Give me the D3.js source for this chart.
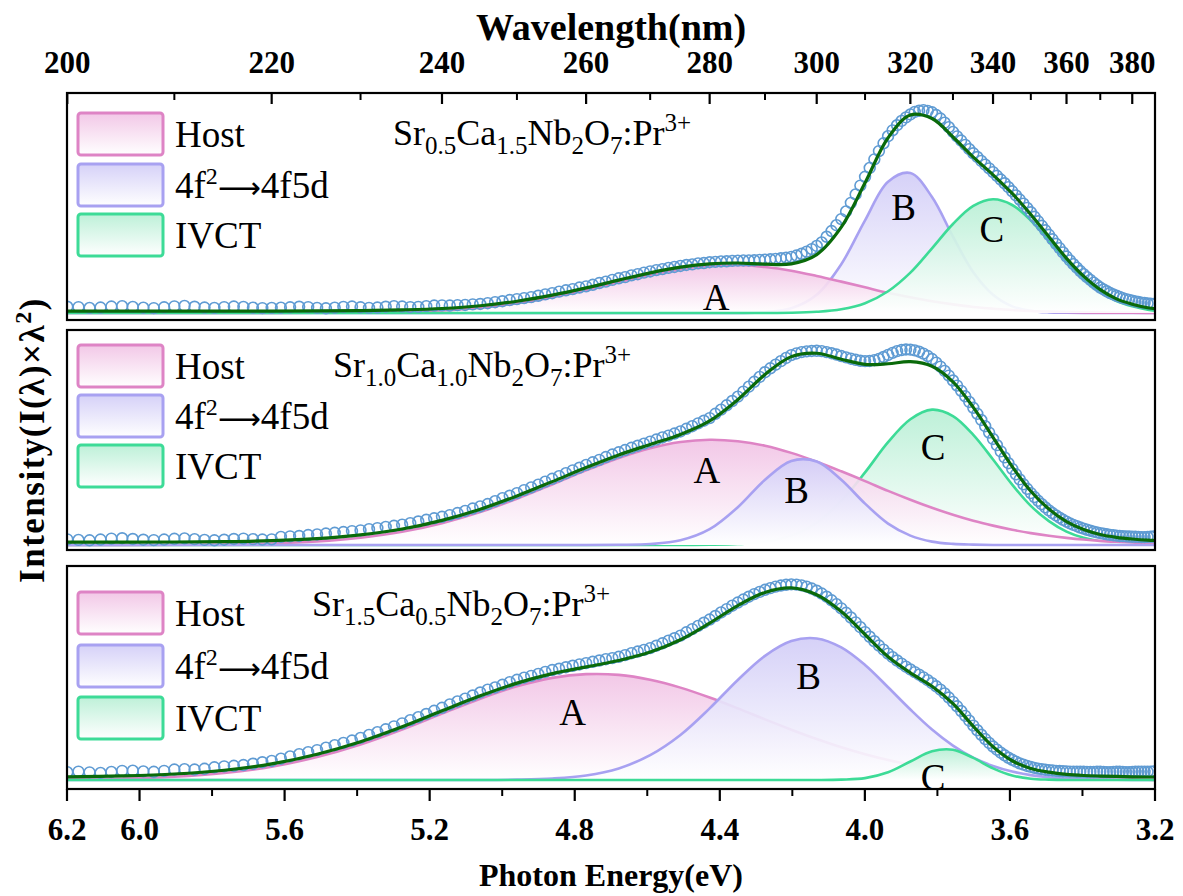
<!DOCTYPE html>
<html><head><meta charset="utf-8">
<script src="https://cdn.jsdelivr.net/npm/d3@7/dist/d3.min.js"></script>
<style>body{margin:0;background:#fff} svg{display:block}</style>
</head><body>
<svg id="chart" width="1183" height="896"></svg>
<script>
// ---------------- DATA ----------------
// wavelength grid (nm) of the fitted components
const gridNm = [200,205,210,215,220,225,230,235,240,245,250,255,260,265,270,275,280,285,290,295,
                300,305,310,315,320,325,330,335,340,345,350,355,360,365,370,375,380,385,390];
// wavelengths (nm) of measured points: 200..387 nm, 1 nm step
const obsNm = d3.range(200, 388, 1);

// Panel 1 : Sr0.5Ca1.5Nb2O7:Pr3+
const hostP1 = [0,0,0,0,0,0.1,0.2,0.6,1.3,2.7,5.0,8.1,11.8,15.8,19.5,22.4,24.1,24.5,23.5,21.6,
                18.9,16.0,13.1,10.3,8.0,6.0,4.4,3.1,2.2,1.5,1.0,0.7,0.5,0.3,0.2,0.1,0.1,0,0];
const bandP1 = [0,0,0,0,0,0,0,0,0,0,0,0,0,0,0,0,0,0,0.4,2.4,
                9.3,24.9,47.3,67.0,71.4,59.2,39.0,20.8,9.3,3.4,1.1,0.3,0.1,0,0,0,0,0,0];
const ivctP1 = [0,0,0,0,0,0,0,0,0,0,0,0,0,0,0,0,0,0,0,0.1,
                0.6,1.9,5.0,11.1,20.6,33.0,45.4,54.6,58.0,55.1,47.2,36.9,26.3,17.5,10.7,6.1,3.4,1.7,0.8];
const offsetP1 = 1.0;
const obsP1 = [
 3.2,3.0,2.6,2.8,3.3,3.5,3.1,2.7,2.5,2.9,3.4,3.6,3.2,2.8,2.6,3.0,3.3,3.1,2.7,2.5,2.6,
 2.7,2.9,3.2,3.0,2.6,2.4,2.7,3.1,3.3,2.9,2.6,2.8,3.2,3.5,3.3,3.0,3.1,3.5,3.8,3.9,
 3.8,4.0,4.1,4.4,4.6,5.0,5.5,6.0,6.6,7.1,7.6,8.1,8.8,9.5,10.1,10.9,11.6,12.2,13.0,13.6,
 14.4,15.3,16.0,16.9,17.7,18.3,19.2,19.8,20.6,21.2,21.9,22.4,23.0,23.5,24.0,24.5,24.8,25.3,25.5,25.9,
 26.1,26.3,26.4,26.6,26.7,26.8,26.8,26.9,27.1,27.2,27.4,27.6,27.9,28.2,28.6,29.3,30.2,31.3,32.6,34.2,
 36.0,38.9,41.8,44.8,47.9,51.8,56.2,60.5,65.0,69.5,74.0,78.4,82.6,86.6,90.2,93.2,95.8,98.0,99.8,101.3,
 102.6,103.2,103.5,103.1,102.4,101.0,99.2,97.1,94.8,92.4,90.1,88.0,85.8,83.6,81.5,79.6,77.6,75.7,73.8,71.9,
 70.0,68.1,66.2,64.2,62.1,60.0,57.9,55.8,53.6,51.4,49.1,46.8,44.5,42.2,39.9,37.6,35.3,33.1,30.9,28.8,
 26.8,24.9,23.1,21.4,19.8,18.3,16.9,15.5,14.2,13.0,12.0,11.1,10.2,9.5,8.8,8.2,7.6,7.1,6.7,6.3,
 5.9,5.6,5.3,5.1,4.9,4.7,4.6];

// Panel 2 : Sr1.0Ca1.0Nb2O7:Pr3+
const hostP2 = [0,0,0.1,0.3,0.8,1.9,3.9,7.0,11.6,17.5,24.6,32.2,39.7,46.3,51.5,54.8,56.0,55.2,52.8,49.0,
                44.3,39.2,34.0,28.8,24.1,19.8,16.1,12.9,10.3,8.1,6.3,4.9,3.8,2.9,2.2,1.7,1.3,0.9,0.7];
const bandP2 = [0,0,0,0,0,0,0,0,0,0,0,0,0,0.1,0.5,2.5,8.4,20.1,34.7,44.7,
                44.4,34.7,22.0,11.4,5.0,1.8,0.6,0.2,0,0,0,0,0,0,0,0,0,0,0];
const ivctP2 = [0,0,0,0,0,0,0,0,0,0,0,0,0,0,0,0,0.1,0.5,1.7,5.0,
                11.8,23.4,38.6,54.7,66.9,72.0,68.6,58.6,45.5,32.1,20.8,12.7,7.1,3.8,1.9,0.9,0.4,0.2,0.1];
const offsetP2 = 1.5;
const obsP2 = [
 3.0,2.7,2.5,2.9,3.4,3.6,3.2,2.8,2.6,2.9,3.3,3.5,3.1,2.7,2.5,2.8,3.2,3.4,3.1,2.9,3.0,
 4.3,4.6,4.8,5.3,5.6,6.1,6.5,6.9,7.4,7.8,8.4,9.0,9.6,10.2,10.8,11.6,12.5,13.4,14.2,15.0,
 15.9,17.0,18.1,19.4,20.5,21.8,23.3,24.9,26.2,27.6,29.2,30.6,32.1,33.7,35.2,36.6,38.2,39.7,41.1,42.6,
 44.0,45.3,46.8,48.1,49.3,50.5,51.7,52.8,53.9,55.0,56.1,57.2,58.2,59.3,60.4,61.8,63.2,64.7,66.1,67.5,
 69.8,72.0,74.3,76.6,78.9,81.6,84.2,86.8,89.4,91.9,94.0,95.9,97.8,99.5,101.0,101.9,102.6,103.0,103.2,103.3,
 103.1,102.6,102.0,101.3,100.5,99.8,99.1,98.5,98.0,97.8,97.9,98.3,99.0,100.0,101.1,102.2,103.1,103.7,104.0,103.9,
 103.5,102.8,101.8,100.5,98.9,97.0,94.9,92.6,90.1,87.5,84.8,82.0,79.1,76.1,73.0,69.8,66.5,63.2,59.8,56.4,
 53.1,49.8,46.6,43.5,40.5,37.6,34.9,32.3,29.9,27.6,25.5,23.5,21.7,20.0,18.4,17.0,15.7,14.5,13.4,12.4,
 11.5,10.7,10.0,9.3,8.7,8.1,7.6,7.1,6.7,6.3,6.0,5.7,5.4,5.2,5.0,4.8,4.7,4.6,4.5,4.4,
 4.4,4.3,4.2,4.2,4.3,4.4,4.5];

// Panel 3 : Sr1.5Ca0.5Nb2O7:Pr3+
const hostP3 = [0.2,0.7,1.7,3.7,7.1,12.3,19.0,27.0,35.5,43.5,50.1,54.6,56.6,56.2,53.6,49.4,44.1,38.3,32.4,26.9,
                21.9,17.5,13.8,10.7,8.2,6.2,4.7,3.5,2.6,1.9,1.4,1.0,0.7,0.5,0.4,0.3,0.2,0.1,0.1];
const bandP3 = [0,0,0,0,0,0,0,0,0,0,0.2,0.8,2.4,6.2,13.3,24.1,38.3,53.5,66.4,74.3,
                75.7,70.9,61.5,49.6,37.7,27.0,18.4,11.9,7.5,4.5,2.6,1.5,0.8,0.4,0.2,0.1,0,0,0];
const ivctP3 = [0,0,0,0,0,0,0,0,0,0,0,0,0,0,0,0,0,0,0,0,
                0,0.2,1.0,4.1,9.9,15.4,16.2,11.8,6.2,2.4,0.7,0.2,0,0,0,0,0,0,0];
const offsetP3 = 1.5;
const obsP3 = [
 4.2,4.5,4.1,3.8,4.3,4.9,5.0,4.6,4.4,4.9,5.6,5.8,5.6,6.0,6.8,7.3,7.6,8.0,8.7,9.5,10.2,
 11.4,12.6,13.8,14.9,16.0,17.3,18.6,19.8,21.1,22.5,24.1,25.6,27.1,28.7,30.3,32.0,33.6,35.3,37.0,38.6,
 40.4,42.0,43.5,45.2,46.8,48.3,49.5,50.9,52.3,53.6,54.7,55.7,56.7,57.8,58.8,59.5,60.3,61.1,61.8,62.5,
 63.2,63.9,64.6,65.2,65.9,66.8,67.8,68.7,69.6,70.5,71.8,73.1,74.5,75.8,77.2,79.0,80.7,82.4,84.1,85.8,
 87.7,89.6,91.4,93.2,94.9,96.5,98.0,99.4,100.6,101.7,102.6,103.4,104.0,104.4,104.6,104.5,104.1,103.4,102.4,101.2,
 99.7,98.0,96.1,94.0,91.8,89.4,86.9,84.3,81.7,79.1,76.6,74.2,71.9,69.7,67.6,65.7,63.9,62.2,60.6,59.1,
 57.7,56.3,54.9,53.4,51.8,50.1,48.3,46.3,44.1,41.8,39.4,36.9,34.3,31.7,29.1,26.6,24.2,21.9,19.8,17.9,
 16.2,14.6,13.2,11.9,10.8,9.8,8.9,8.2,7.5,7.0,6.5,6.1,5.8,5.5,5.3,5.1,4.9,4.8,4.7,4.6,
 4.5,4.5,4.4,4.4,4.4,4.3,4.3,4.3,4.4,4.4,4.3,4.2,4.2,4.3,4.4,4.4,4.3,4.2,4.2,4.3,
 4.4,4.5,4.5,4.4,4.4,4.5,4.6];

// axis ticks
const energyTicks = [6.2, 6.0, 5.6, 5.2, 4.8, 4.4, 4.0, 3.6, 3.2];
const energyMinor = [5.8, 5.4, 5.0, 4.6, 4.2, 3.8, 3.4];
const wlTicks = [200,220,240,260,280,300,320,340,360,380];
const wlMinor = [210,230,250,270,290,310,330,350,370];

const legendNames = ["Host", "4f²⟶4f5d", "IVCT"];
const formulas = [
  [["Sr",0],["0.5",-1],["Ca",0],["1.5",-1],["Nb",0],["2",-1],["O",0],["7",-1],[":Pr",0],["3+",1]],
  [["Sr",0],["1.0",-1],["Ca",0],["1.0",-1],["Nb",0],["2",-1],["O",0],["7",-1],[":Pr",0],["3+",1]],
  [["Sr",0],["1.5",-1],["Ca",0],["0.5",-1],["Nb",0],["2",-1],["O",0],["7",-1],[":Pr",0],["3+",1]]
];
// peak-letter anchors (energy eV, intensity)
const letterPos = [
  [[4.41,1.5],[3.893,47.4],[3.65,36.2]],
  [[4.436,33],[4.188,22.3],[3.812,45.2]],
  [[4.806,29.4],[4.155,48.7],[3.812,-5.3]]
];

// ---------------- LAYOUT / STYLE ----------------
const HC = 1239.84;
const serif = "'Liberation Serif','Times New Roman',Times,serif";
const x = d3.scaleLinear().domain([6.2, 3.2]).range([67, 1155]);
const frames = [
  {top: 93,  bottom: 320, zero: 313, k: 1.96, formulaX: 393, formulaY: 145, legendY: [113,164,214], order: [1,0,2]},
  {top: 330, bottom: 550, zero: 545, k: 1.88, formulaX: 333, formulaY: 377, legendY: [345,395,445], order: [2,0,1]},
  {top: 566, bottom: 789, zero: 780, k: 1.87, formulaX: 312, formulaY: 616, legendY: [592,645,697], order: [0,1,2]}
];
const compStyle = [
  {line: "#de84c5", top: "#f1c3e5"},
  {line: "#a8a1f1", top: "#d2cdf7"},
  {line: "#3ddb97", top: "#b8efd5"}
];
const panelData = [
  {comps: [hostP1, bandP1, ivctP1], offset: offsetP1, obs: obsP1},
  {comps: [hostP2, bandP2, ivctP2], offset: offsetP2, obs: obsP2},
  {comps: [hostP3, bandP3, ivctP3], offset: offsetP3, obs: obsP3}
];

const svg = d3.select("#chart");
const defs = svg.append("defs");
compStyle.forEach((c, i) => {
  const g = defs.append("linearGradient").attr("id", "grad" + i)
    .attr("x1", 0).attr("y1", 0).attr("x2", 0).attr("y2", 1);
  g.append("stop").attr("offset", "0%").attr("stop-color", c.top).attr("stop-opacity", 0.92);
  g.append("stop").attr("offset", "100%").attr("stop-color", "#ffffff").attr("stop-opacity", 0.92);
});

const gridE = gridNm.map(l => HC / l);

frames.forEach((f, pi) => {
  const pd = panelData[pi];
  const y = d3.scaleLinear().domain([0, 100]).range([f.zero, f.zero - 100 * f.k]);
  defs.append("clipPath").attr("id", "clip" + pi).append("rect")
    .attr("x", x(6.2)).attr("y", f.top).attr("width", x(3.2) - x(6.2)).attr("height", f.bottom - f.top);
  const g = svg.append("g").attr("clip-path", `url(#clip${pi})`);

  f.order.forEach(ci => {
    const vals = pd.comps[ci];
    const pts = gridE.map((e, i) => [e, vals[i]]);
    const area = d3.area().x(d => x(d[0])).y0(y(0)).y1(d => y(d[1])).curve(d3.curveCatmullRom.alpha(0.5));
    const line = d3.line().x(d => x(d[0])).y(d => y(d[1])).curve(d3.curveCatmullRom.alpha(0.5));
    g.append("path").datum(pts).attr("d", area).attr("fill", `url(#grad${ci})`);
    g.append("path").datum(pts).attr("d", line).attr("fill", "none")
      .attr("stroke", compStyle[ci].line).attr("stroke-width", 2.6);
  });

  // measured points
  g.append("g").selectAll("circle").data(obsNm.map((l, i) => [HC / l, pd.obs[i]]))
    .join("circle").attr("cx", d => x(d[0])).attr("cy", d => y(d[1])).attr("r", 5.4)
    .attr("fill", "none").attr("stroke", "#5f9bd3").attr("stroke-width", 1.6);

  // cumulative fit
  const fit = gridE.map((e, i) => [e, pd.comps[0][i] + pd.comps[1][i] + pd.comps[2][i] + pd.offset]);
  g.append("path").datum(fit)
    .attr("d", d3.line().x(d => x(d[0])).y(d => y(d[1])).curve(d3.curveCatmullRom.alpha(0.5)))
    .attr("fill", "none").attr("stroke", "#0a6a0a").attr("stroke-width", 3.2);

  // peak letters
  ["A", "B", "C"].forEach((L, li) => {
    g.append("text").attr("x", x(letterPos[pi][li][0])).attr("y", y(letterPos[pi][li][1]))
      .attr("text-anchor", "middle").attr("font-family", serif).attr("font-size", 37).text(L);
  });

  // frame
  svg.append("rect").attr("x", x(6.2)).attr("y", f.top).attr("width", x(3.2) - x(6.2))
    .attr("height", f.bottom - f.top).attr("fill", "none").attr("stroke", "#000").attr("stroke-width", 2.2);

  // legend
  legendNames.forEach((name, li) => {
    svg.append("rect").attr("x", 78).attr("y", f.legendY[li]).attr("width", 85).attr("height", 42)
      .attr("rx", 3).attr("fill", `url(#grad${li})`).attr("stroke", compStyle[li].line).attr("stroke-width", 3);
    const t = svg.append("text").attr("x", 175).attr("y", f.legendY[li] + 34)
      .attr("font-family", serif).attr("font-size", 37);
    if (li === 1) {
      t.append("tspan").text("4f");
      t.append("tspan").attr("font-size", 24).attr("dy", -14).text("2");
      t.append("tspan").attr("dy", 14).attr("font-family", "'DejaVu Sans'").attr("font-size", 30).text("⟶");
      t.append("tspan").text("4f5d");
    } else t.text(name);
  });

  // formula
  const ft = svg.append("text").attr("x", f.formulaX).attr("y", f.formulaY)
    .attr("font-family", serif).attr("font-size", 36);
  let cur = 0;
  formulas[pi].forEach(([s, kind]) => {
    const target = kind === -1 ? 9 : kind === 1 ? -14 : 0;
    ft.append("tspan").attr("dy", target - cur).attr("font-size", kind === 0 ? 36 : 25).text(s);
    cur = target;
  });
});

// bottom axis (energy)
const bottomY = frames[2].bottom;
const axB = svg.append("g");
energyTicks.forEach(v => {
  axB.append("line").attr("x1", x(v)).attr("x2", x(v)).attr("y1", bottomY).attr("y2", bottomY + 12)
    .attr("stroke", "#000").attr("stroke-width", 2.2);
  axB.append("text").attr("x", x(v)).attr("y", bottomY + 51).attr("text-anchor", "middle")
    .attr("font-family", serif).attr("font-weight", "bold").attr("font-size", 31).text(d3.format(".1f")(v));
});
energyMinor.forEach(v => {
  axB.append("line").attr("x1", x(v)).attr("x2", x(v)).attr("y1", bottomY).attr("y2", bottomY + 7)
    .attr("stroke", "#000").attr("stroke-width", 2);
});
svg.append("text").attr("x", 611).attr("y", 886).attr("text-anchor", "middle")
  .attr("font-family", serif).attr("font-weight", "bold").attr("font-size", 32).text("Photon Energy(eV)");

// top axis (wavelength)
const topY = frames[0].top;
const axT = svg.append("g");
wlTicks.forEach(l => {
  const px = x(HC / l);
  axT.append("line").attr("x1", px).attr("x2", px).attr("y1", topY).attr("y2", topY + 11)
    .attr("stroke", "#000").attr("stroke-width", 2.2);
  axT.append("text").attr("x", px).attr("y", topY - 20).attr("text-anchor", "middle")
    .attr("font-family", serif).attr("font-weight", "bold").attr("font-size", 31).text(l);
});
wlMinor.forEach(l => {
  const px = x(HC / l);
  axT.append("line").attr("x1", px).attr("x2", px).attr("y1", topY).attr("y2", topY + 7)
    .attr("stroke", "#000").attr("stroke-width", 2);
});
svg.append("text").attr("x", 611).attr("y", 40).attr("text-anchor", "middle")
  .attr("font-family", serif).attr("font-weight", "bold").attr("font-size", 38).text("Wavelength(nm)");

// y label
const yl = svg.append("text").attr("transform", "translate(44,440) rotate(-90)").attr("text-anchor", "middle")
  .attr("font-family", serif).attr("font-weight", "bold").attr("font-size", 35).attr("letter-spacing", 1.5);
yl.append("tspan").text("Intensity(I(λ)×λ");
yl.append("tspan").attr("font-size", 24).attr("dy", -13).text("2");
yl.append("tspan").attr("dy", 13).text(")");
</script>
</body></html>
